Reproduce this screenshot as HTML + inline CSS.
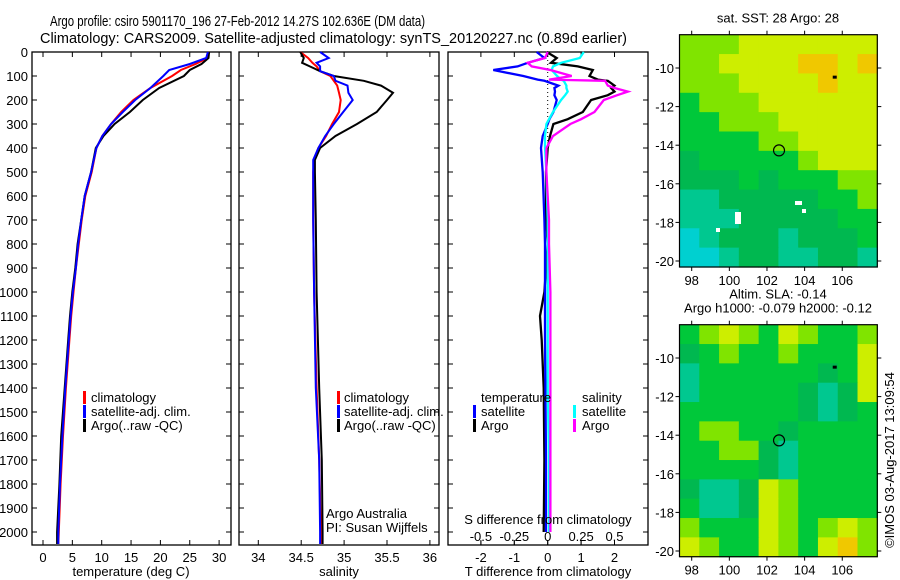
<!DOCTYPE html>
<html><head><meta charset="utf-8"><style>
html,body{margin:0;padding:0;background:#fff;}
svg{display:block;font-family:"Liberation Sans",sans-serif;}
text{font-size:13px;fill:#000;}
</style></head><body>
<svg id="fig" width="900" height="580" viewBox="0 0 900 580" xmlns="http://www.w3.org/2000/svg">
<text x="50" y="26" textLength="375" lengthAdjust="spacingAndGlyphs" style="font-size:15px">Argo profile: csiro 5901170_196 27-Feb-2012 14.27S 102.636E (DM data)</text>
<text x="40" y="43" textLength="587" lengthAdjust="spacingAndGlyphs" style="font-size:15px">Climatology: CARS2009. Satellite-adjusted climatology: synTS_20120227.nc (0.89d earlier)</text>
<g id="g"></g>
</svg>
<script>
// ---------- data ----------
const depthTicks = [0,100,200,300,400,500,600,700,800,900,1000,1100,1200,1300,1400,1500,1600,1700,1800,1900,2000];
const tempTicks = [0,5,10,15,20,25,30];
const salTicks = [34,34.5,35,35.5,36];
const tdiffTicks = [-2,-1,0,1,2];
const sdiffTicks = [-0.5,-0.25,0,0.25,0.5];
const sdiffTickLabels = ["-0.5","-0.25","0","0.25","0.5"];

const tDepth = [0,25,50,75,100,150,200,250,300,350,400,500,600,700,800,900,1000,1100,1200,1400,1600,1800,2000,2050];
const tClim  = [28.3,28,26,23.5,22,18.3,15.4,13.3,11.6,10.1,9.1,8.3,7.2,6.6,6.1,5.6,5.2,4.8,4.5,3.9,3.4,3.0,2.7,2.6];
const tSat   = [28.1,27.8,25,21.5,20.5,18.3,15.7,13.6,11.6,10.1,9.1,8.2,7.1,6.5,6.0,5.6,5.1,4.7,4.4,3.8,3.3,2.9,2.6,2.6];
const tArgo  = [28.3,28.2,27,25,24,19.8,17,14.8,12.2,10.3,9.0,8.2,7.1,6.5,5.9,5.5,5.0,4.6,4.3,3.7,3.1,2.8,2.4,2.4];

const sDepth = [0,25,45,60,80,100,120,140,170,200,250,300,350,400,450,500,700,1000,1400,1700,2000,2050];
const sClim  = [34.49,34.58,34.63,34.68,34.72,34.84,34.88,34.92,34.94,34.96,34.94,34.86,34.79,34.7,34.65,34.64,34.64,34.65,34.68,34.71,34.73,34.73];
const sSat   = [34.72,34.82,34.68,34.72,34.72,34.88,34.9,35.04,35.05,35.1,34.99,34.88,34.78,34.7,34.64,34.64,34.64,34.65,34.67,34.71,34.72,34.72];
const sArgo  = [34.49,34.53,34.51,34.6,34.72,34.88,35.23,35.43,35.57,35.5,35.38,35.15,34.9,34.72,34.66,34.66,34.67,34.68,34.71,34.74,34.75,34.75];

const dDepth   = [0,25,45,60,75,100,115,120,140,150,165,180,200,250,280,300,350,400,500,700,800,1000,1100,1200,1400,1700,2000];
const dTsat    = [-0.33,-0.1,-0.6,-0.9,-1.63,-0.73,-0.3,-0.1,0.32,0.2,0.22,0.2,0.27,0.17,0.05,0,-0.15,-0.2,-0.15,-0.1,-0.08,-0.08,-0.08,-0.08,-0.07,-0.05,-0.05];
const dTargo   = [-0.03,0.27,0.1,0.9,1.35,1.25,1.5,1.8,2.0,1.9,2.0,1.8,1.3,1.05,0.6,0.17,0.07,0,-0.05,-0.05,0,-0.1,-0.23,-0.18,-0.12,-0.1,-0.12];
const dSsat    = [0.27,0.24,0.1,0.04,0.03,0.07,0.1,0.12,0.14,0.14,0.15,0.13,0.1,0.04,0.01,-0.01,-0.02,-0.02,-0.01,0,0,0,0,0,0,0.01,0.01];
const dSargo   = [0,-0.02,-0.15,-0.12,0.02,0.18,0.01,0.43,0.45,0.5,0.6,0.52,0.42,0.35,0.25,0.17,0.04,-0.01,-0.01,0.01,0.01,0.02,0.02,0.02,0.02,0.02,0.02];

const mapLonTicks = [98,100,102,104,106];
const mapLatTicks = [-10,-12,-14,-16,-18,-20];
const sstGrid = [
"LLLYYYYYYY","LLYYYYOOYO","LLLYYYYOYY","GLLLYYYYYY","GGLLLYYYYY","GGGGLLYYYY",
"DGGGGGLYYY","DDDGDGGGLL","TTDDDDDGGL","TTTDDDDDGG","CTDDDTDDDG","CCTDDTTDDT"];
const slaGrid = [
"GLYLGYLGGL","DGLGGLGGGY","TGGGGGGDGY","TGGGGGDTDY","GGGGGGDTDG","GLLGGDGGGG",
"GGLLDTGGGG","GGGGDTGGGG","DTTDYLGGGG","GTTDYLGGGG","LGGGYLGLYL","YLGGYLGYOL"];
const floatLon = 102.64, floatLat = -14.27;

// ---------- helpers ----------
const NS="http://www.w3.org/2000/svg";
const G=document.getElementById('g');
function mk(tag,attrs,parent){const e=document.createElementNS(NS,tag);for(const k in attrs)e.setAttribute(k,attrs[k]);(parent||G).appendChild(e);return e;}
const Y0=52, YB=545;
const yD = d => Y0 + d*0.24;

function panel(x0,x1,name){
  const r=mk('rect',{x:x0,y:Y0,width:x1-x0,height:YB-Y0,fill:'none',stroke:'#000','stroke-width':1.3});
  
  
  depthTicks.forEach(d=>{
    mk('line',{x1:x0,x2:x0+5,y1:yD(d),y2:yD(d),stroke:'#000'});
    mk('line',{x1:x1,x2:x1-5,y1:yD(d),y2:yD(d),stroke:'#000'});
  });
}
function xticks(xs,labels,fx,y,name,labelY,top){
  xs.forEach((v,i)=>{
    const x=fx(v);
    mk('line',{x1:x,x2:x,y1:YB,y2:YB-5,stroke:'#000'});
    if(top) mk('line',{x1:x,x2:x,y1:Y0,y2:Y0+5,stroke:'#000'});
    if(labels){
      const t=mk('text',{x:x,y:labelY,'text-anchor':'middle'});
      t.textContent=labels[i];
      
      
    }
  });
}
function series(depths,vals,fx,color,name,w){
  const pts=depths.map((d,i)=>fx(vals[i]).toFixed(1)+','+yD(d).toFixed(1)).join(' ');
  const p=mk('polyline',{points:pts,fill:'none',stroke:color,'stroke-width':w||2,'stroke-linejoin':'miter'});
  
  
}
function label(x,y,txt,name,anchor){
  const t=mk('text',{x:x,y:y,'text-anchor':anchor||'start'});
  t.textContent=txt;
  
  
  return t;
}
function legMark(x,y,color){mk('rect',{x:x,y:y-11,width:3,height:13,fill:color});}

// ---------- panel 1: temperature ----------
const fxT = v => 43 + v*5.87;
panel(32,231,'temperature-panel');
xticks(tempTicks,tempTicks.map(String),fxT,0,'temperature-tick-label',562,true);
depthTicks.forEach(d=>{label(28,yD(d)+5,String(d),'depth-tick-label','end');});
series(tDepth,tClim,fxT,'#ff0000','temperature-climatology-line');
series(tDepth,tArgo,fxT,'#000000','temperature-argo-line');
series(tDepth,tSat,fxT,'#0000ff','temperature-satellite-line');
label(131,576,'temperature (deg C)','temperature-axis-title','middle');
legMark(83,402,'#ff0000');label(91,402,'climatology','legend-climatology');
legMark(83,416,'#0000ff');label(91,416,'satellite-adj. clim.','legend-satellite');
legMark(83,430,'#000');label(91,430,'Argo(..raw -QC)','legend-argo');

// ---------- panel 2: salinity ----------
const fxS = v => 258.3 + (v-34)*85.8;
panel(239,439,'salinity-panel');
xticks(salTicks,salTicks.map(String),fxS,0,'salinity-tick-label',562,true);
series(sDepth,sClim,fxS,'#ff0000','salinity-climatology-line');
series(sDepth,sArgo,fxS,'#000000','salinity-argo-line');
series(sDepth,sSat,fxS,'#0000ff','salinity-satellite-line');
label(339,576,'salinity','salinity-axis-title','middle');
legMark(337,402,'#ff0000');label(344,402,'climatology','legend-climatology-2');
legMark(337,416,'#0000ff');label(344,416,'satellite-adj. clim.','legend-satellite-2');
legMark(337,430,'#000');label(344,430,'Argo(..raw -QC)','legend-argo-2');
label(326,518,'Argo Australia','credit-argo-australia');
label(326,532,'PI: Susan Wijffels','credit-pi');

// ---------- panel 3: differences ----------
const fxD = v => 547.7 + v*33.4;
const fxSD = v => 547.7 + v*133.6;
panel(448,648,'difference-panel');
xticks(tdiffTicks,tdiffTicks.map(String),fxD,0,'tdiff-tick-label',562,true);
sdiffTicks.forEach((v,i)=>{
  const x=fxSD(v);
  mk('line',{x1:x,x2:x,y1:545,y2:541,stroke:'#000'});
  label(x,541,sdiffTickLabels[i],'sdiff-tick-label','middle');
});
mk('line',{x1:fxD(0),x2:fxD(0),y1:Y0,y2:yD(400),stroke:'#000','stroke-dasharray':'1,3'});
series(dDepth,dTargo,fxD,'#000000','tdiff-argo-line',2.3);
series(dDepth,dTsat,fxD,'#0000ff','tdiff-satellite-line',2.3);
series(dDepth,dSsat,fxSD,'#00ffff','sdiff-satellite-line',2.3);
series(dDepth,dSargo,fxSD,'#ff00ff','sdiff-argo-line',2.3);
label(548,576,'T difference from climatology','tdiff-axis-title','middle');
label(548,524,'S difference from climatology','sdiff-axis-title','middle');
label(481,402,'temperature','legend-temperature-header');
legMark(473,416,'#0000ff');label(481,416,'satellite','legend-tsat');
legMark(473,430,'#000');label(481,430,'Argo','legend-targo');
label(582,402,'salinity','legend-salinity-header');
legMark(573,416,'#00ffff');label(582,416,'satellite','legend-ssat');
legMark(573,430,'#ff00ff');label(582,430,'Argo','legend-sargo');

// ---------- maps ----------
const palette={Y:'#cdee00',O:'#f0c800',L:'#80e400',G:'#00c83a',D:'#00b850',T:'#00c890',C:'#00d0d0'};
const MX0=679.5, MX1=877.3;
const mlon = lon => 691.7 + (lon-98)*18.82;
function drawMap(y0,y1,grid,name,title1,title2){
  const gg=mk('g',{});
  
  
  const rows=grid.length, cols=grid[0].length;
  const cw=(MX1-MX0)/cols, ch=(y1-y0)/rows;
  grid.forEach((row,r)=>{[...row].forEach((c,k)=>{
    mk('rect',{x:MX0+k*cw,y:y0+r*ch,width:cw+0.6,height:ch+0.6,fill:palette[c]},gg);
  });});
  const mlat = lat => y0 + 33.3 + (-lat-10)*19.3;
  mk('rect',{x:MX0,y:y0,width:MX1-MX0,height:y1-y0,fill:'none',stroke:'#000','stroke-width':1.2});
  mapLonTicks.forEach(v=>{
    const x=mlon(v);
    mk('line',{x1:x,x2:x,y1:y1,y2:y1+4,stroke:'#000'});
    mk('line',{x1:x,x2:x,y1:y0,y2:y0-4,stroke:'#000'});
    label(x,y1+18,String(v),'map-lon-label','middle');
  });
  mapLatTicks.forEach(v=>{
    const y=mlat(v);
    mk('line',{x1:MX0,x2:MX0-4,y1:y,y2:y,stroke:'#000'});
    mk('line',{x1:MX1,x2:MX1+4,y1:y,y2:y,stroke:'#000'});
    label(674,y+5,String(v),'map-lat-label','end');
  });
  const c=mk('circle',{cx:mlon(floatLon),cy:mlat(floatLat),r:5.5,fill:'none',stroke:'#000','stroke-width':1.2});
  
  
  mk('rect',{x:mlon(105.6)-2,y:mlat(-10.5)-2,width:4,height:3,fill:'#000'});
  if(title1) label(778,y0-12-(title2?14:0),title1,name+'-title','middle');
  if(title2) label(778,y0-12,title2,name+'-subtitle','middle');
}
drawMap(34.7,267,sstGrid,'sst-map','sat. SST: 28 Argo: 28',null);
mk('rect',{x:735,y:212,width:6,height:12,fill:'#fff'});
mk('rect',{x:795,y:201,width:7,height:4,fill:'#fff'});
mk('rect',{x:802,y:209,width:4,height:4,fill:'#fff'});
mk('rect',{x:716,y:228,width:4,height:4,fill:'#fff'});
drawMap(324.7,556.7,slaGrid,'sla-map','Altim. SLA: -0.14','Argo h1000: -0.079 h2000: -0.12');
const rt=label(0,0,'©IMOS 03-Aug-2017 13:09:54','timestamp-credit','middle');
rt.setAttribute('transform','translate(894,460) rotate(-90)');
</script>
</body></html>
